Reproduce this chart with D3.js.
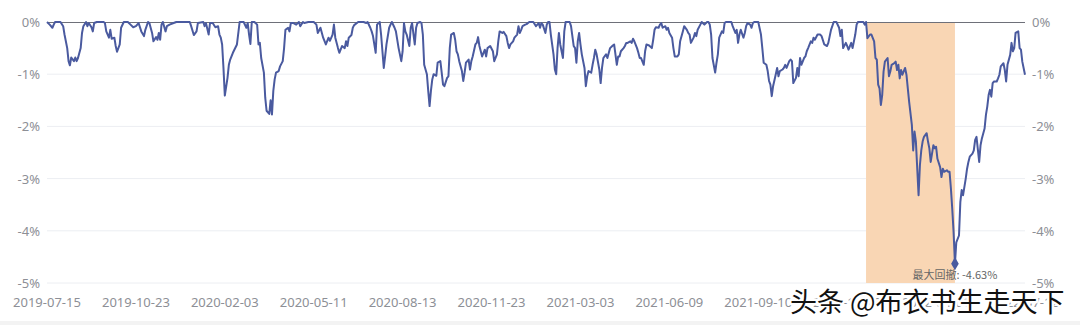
<!DOCTYPE html>
<html><head><meta charset="utf-8">
<script src="https://cdn.jsdelivr.net/npm/d3@7"></script>
<style>html,body{margin:0;padding:0;background:#fff;} svg{display:block;}</style>
</head><body><svg id="c" width="1080" height="325"></svg>
<script>
// trading-day index (0 = 2019-07-15) and drawdown in %
const dayIndex = [
0,2,4,5,6,10,12,13,15,16,17,18,20,21,22,23,25,26,27,29,30,31,33,34,35,37,42,43,44,46,47,48,50,51,52,54,55,57,60,62,64,66,68,70,72,73,75,76,78,79,81,82,83,84,85,86,88,89,91,94,96,106,107,109,111,112,116,117,118,120,121,123,125,127,128,129,130,131,132,134,135,136,138,141,143,
146,148,149,150,151,152,154,156,157,158,159,161,162,163,165,166,167,168,169,170,172,173,175,176,177,179,180,181,183,185,187,188,190,191,194,198,200,201,203,205,207,209,210,212,213,214,216,217,219,221,222,223,224,226,227,228,231,235,237,238,240,241,242,244,245,247,248,250,251,252,254,255,256,258,259,261,263,264,265,266,267,269,270,271,273,274,275,277,278,279,280,282,283,284,285,286,287,289,290,292,
293,294,295,297,298,299,300,302,303,304,305,306,308,309,310,311,313,314,315,316,318,319,320,321,322,323,325,326,327,329,331,332,334,335,336,338,339,341,342,343,344,346,347,349,350,351,352,353,355,356,358,361,363,365,366,367,368,370,371,372,373,374,376,377,378,379,380,381,383,384,385,388,389,391,392,393,394,395,396,397,399,400,401,402,404,405,406,407,408,410,411,412,413,415,416,418,420,421,423,424,425,426,428,429,430,431,433,434,435,436,438,439,440,
441,443,444,445,447,449,450,451,452,454,455,456,457,459,460,461,462,464,465,466,468,469,470,472,473,475,476,477,478,480,481,482,483,485,486,488,490,491,492,493,494,496,497,498,499,501,502,503,504,508,509,511,512,513,514,515,517,518,519,520,522,523,524,525,528,530,531,532,534,535,536,537,538,539,541,542,543,544,546,547,548,549,551,552,553,554,556,557,558,559,560,562,563,564,565,567,568,569,570,572,574,575,577,579,580,582,584,586,588,589,590,591,593,594,595,597,598,600,601,
602,606,607,608,609,611,612,614,615,616,617,618,619,620,621,622,624,625,626,627,629,630,631,632,633,634,635,637,638,639,640,642,643,644,645,647,648,649,650,651,653,654,655,656,658,659,660,661,663,664,665,666,668,669,670,671,672,673,674,675,677,678,679,680,682,683,684,685,687,688,689,690,692,693,694,696,697,698,699,700,701,702,703,705,706,707,708,710,711,712,713,715,716,717,718,719,721,722,723,724,726
];
const drawdown = [
0,-0.05,-0.11,-0.05,0,0,-0.08,-0.24,-0.5,-0.75,-0.83,-0.68,-0.75,-0.68,-0.75,-0.69,-0.5,-0.21,-0.08,0,-0.08,-0.02,-0.1,-0.18,-0.02,0,0,-0.02,-0.18,-0.3,-0.15,-0.32,-0.3,-0.46,-0.57,-0.43,-0.11,0,0,-0.05,-0.1,-0.08,-0.02,-0.18,-0.27,-0.15,0,-0.02,-0.21,-0.37,-0.29,-0.34,-0.21,-0.34,-0.05,0,-0.18,-0.08,-0.05,-0.02,0,0,-0.08,-0.25,-0.18,-0.02,0,-0.08,-0.02,-0.24,-0.02,-0.02,-0.1,-0.08,-0.24,-0.3,-0.43,-0.88,-1.41,-1.07,-0.82,-0.72,-0.59,-0.43,0,
0,-0.11,-0.02,-0.24,-0.42,0,0,-0.05,-0.43,-0.4,-0.69,-0.97,-1.45,-1.7,-1.76,-1.5,-1.77,-1.32,-1.1,-0.97,-0.94,-0.85,-0.75,-0.5,-0.15,-0.11,-0.18,-0.02,-0.02,-0.05,0,-0.08,0,-0.02,0,0,-0.05,-0.21,-0.11,-0.3,-0.43,-0.3,-0.36,-0.24,-0.05,-0.3,-0.5,-0.59,-0.46,-0.5,-0.37,-0.46,-0.3,-0.25,-0.11,-0.06,0,0,-0.02,0,-0.11,-0.18,-0.27,-0.59,-0.05,0,-0.24,-0.88,-0.66,-0.43,-0.11,-0.05,0,-0.11,-0.18,-0.5,-0.75,-0.56,-0.02,-0.18,-0.24,-0.46,-0.11,-0.02,-0.43,-0.11,-0.02,0,-0.02,-0.24,-0.82,-1.0,-1.32,-1.61,-1.32,-1.1,-1.0,-1.03,-0.78,-0.75,
-0.97,-1.2,-1.23,-1.07,-1.04,-0.5,-0.24,-0.21,-0.34,-0.56,-0.62,-0.75,-0.94,-1.13,-0.97,-0.78,-0.72,-0.91,-0.75,-0.66,-0.43,-0.4,-0.29,-0.46,-0.56,-0.66,-0.53,-0.66,-0.5,-0.46,-0.56,-0.75,-0.62,-0.37,-0.18,-0.21,-0.19,-0.27,-0.4,-0.5,-0.43,-0.37,-0.3,-0.24,-0.08,-0.21,-0.15,-0.08,-0.05,-0.04,0,0,-0.08,-0.02,-0.11,-0.02,-0.05,-0.21,-0.05,0,0,-0.24,-0.62,-0.91,-1.0,-0.5,-0.21,-0.43,-0.69,-0.18,0,0,-0.08,-0.46,-0.5,-0.78,-0.37,-0.21,-0.43,-0.62,-0.88,-1.23,-1.04,-0.94,-0.97,-0.82,-0.69,-0.53,-0.62,-0.91,-1.17,-0.88,-0.69,-0.62,-0.69,-0.5,-0.45,-0.43,-0.82,-0.66,-0.66,-0.56,-0.5,-0.46,-0.4,-0.4,-0.37,-0.4,-0.32,-0.37,-0.5,-0.59,-0.69,
-0.69,-0.82,-0.56,-0.43,-0.45,-0.5,-0.34,-0.15,-0.1,-0.11,-0.05,-0.02,-0.11,-0.08,-0.15,-0.11,-0.21,-0.3,-0.5,-0.66,-0.66,-0.62,-0.37,-0.18,-0.08,-0.15,-0.21,-0.24,-0.4,-0.3,-0.21,-0.27,-0.15,-0.05,0,-0.05,0,0,-0.05,-0.24,-0.69,-0.97,-0.78,-0.62,-0.3,-0.18,-0.21,-0.02,0,0,-0.08,-0.21,-0.15,-0.4,-0.24,-0.15,-0.3,-0.21,-0.08,-0.02,-0.05,-0.11,-0.02,0,0,-0.24,-0.5,-0.78,-0.82,-0.94,-1.13,-1.2,-1.42,-1.23,-1.0,-0.88,-1.04,-0.94,-0.91,-0.88,-0.82,-0.88,-0.75,-0.72,-0.75,-1.17,-1.07,-0.88,-1.04,-0.69,-0.82,-0.69,-0.66,-0.56,-0.5,-0.37,-0.4,-0.3,-0.34,-0.24,-0.24,-0.27,-0.43,-0.46,-0.4,-0.15,0,0,-0.11,-0.27,-0.15,-0.5,-0.4,-0.46,-0.53,-0.4,-0.5,-0.24,-0.05,
0,0,-0.05,0,-0.31,-0.24,-0.24,-0.37,-0.69,-0.72,-1.2,-1.27,-1.59,-1.4,-0.95,-0.76,-0.69,-1.04,-0.95,-0.82,-0.79,-0.76,-0.92,-0.82,-1.08,-0.92,-1.01,-0.88,-1.01,-1.27,-1.53,-1.97,-2.46,-2.1,-2.29,-3.32,-2.74,-2.46,-2.29,-2.2,-2.13,-2.29,-2.42,-2.68,-2.36,-2.42,-2.39,-2.62,-2.78,-2.97,-2.81,-2.87,-2.84,-2.87,-2.87,-3.19,-3.58,-4.03,-4.63,-4.22,-4.09,-3.45,-3.22,-3.32,-3.0,-2.81,-2.68,-2.58,-2.52,-2.46,-2.26,-2.2,-2.68,-2.36,-2.23,-2.04,-1.78,-1.62,-1.4,-1.3,-1.43,-1.17,-1.14,-1.14,-1.08,-1.01,-0.85,-0.79,-0.92,-1.14,-0.82,-0.63,-0.4,-0.56,-0.5,-0.21,-0.18,-0.5,-0.53,-0.76,-1.01
];
const xTickIndex = [0,66,132,198,264,330,396,462,528,594,660,726];
const xTickLabels = ["2019-07-15","2019-10-23","2020-02-03","2020-05-11","2020-08-13","2020-11-23","2021-03-03","2021-06-09","2021-09-10","2021-12-22","2022-04-01","2022-07-12"];
const yTicks = [0,-1,-2,-3,-4,-5];
const peakIndex = 608;
const maxDDLabel = "最大回撤";
const watermarkText = "头条 @布衣书生走天下";

const data = dayIndex.map((d,i)=>({i:d, v:drawdown[i]}));
const svg = d3.select("#c");
const x = d3.scaleLinear().domain([0, 726]).range([47, 1025]);
const y = d3.scaleLinear().domain([-5, 0]).range([283, 22]);
const font = "'Noto Sans', 'Noto Sans CJK SC', sans-serif";
const labelColor = "#8d8f96";

// bottom light band
svg.append("rect").attr("x",0).attr("y",321).attr("width",1080).attr("height",4).attr("fill","#f3f3f3");

// gridlines
svg.append("g").selectAll("line").data(yTicks.filter(t=>t!==0)).join("line")
  .attr("x1", x(0)).attr("x2", x(726))
  .attr("y1", d=>y(d)).attr("y2", d=>y(d))
  .attr("stroke", "#eceef2").attr("stroke-width", 1);

// max drawdown shaded area
const trough = d3.least(data, d=>d.v);
svg.append("rect")
  .attr("x", x(peakIndex)).attr("width", x(trough.i)-x(peakIndex))
  .attr("y", y(0)).attr("height", y(-5)-y(0))
  .attr("fill", "#f9d6b4");

// zero axis line
svg.append("line").attr("x1", x(0)).attr("x2", x(726)).attr("y1", y(0)+0.5).attr("y2", y(0)+0.5)
  .attr("stroke", "#6e7079").attr("stroke-width", 1);

// y labels both sides
const yl = svg.append("g").attr("font-family", font).attr("font-size", 13).attr("fill", labelColor);
yl.selectAll("text.l").data(yTicks).join("text").attr("class","l")
  .attr("x", 40).attr("y", d=>y(d)).attr("text-anchor","end").attr("dominant-baseline","central")
  .text(d=>d+"%");
yl.selectAll("text.r").data(yTicks).join("text").attr("class","r")
  .attr("x", 1032).attr("y", d=>y(d)).attr("text-anchor","start").attr("dominant-baseline","central")
  .text(d=>d+"%");

// x labels
svg.append("g").attr("font-family", font).attr("font-size", 13).attr("fill", labelColor)
  .selectAll("text").data(xTickIndex).join("text")
  .attr("x", d=>x(d)).attr("y", 302).attr("text-anchor","middle").attr("dominant-baseline","central")
  .text((d,i)=>xTickLabels[i]);

// line
const line = d3.line().x(d=>x(d.i)).y(d=>y(d.v));
svg.append("path").datum(data).attr("d", line)
  .attr("fill","none").attr("stroke","#4a5a9f").attr("stroke-width",2).attr("stroke-linejoin","round");

// trough marker
svg.append("path").attr("d", d3.symbol(d3.symbolDiamond, 50)())
  .attr("transform", `translate(${x(trough.i)},${y(trough.v)})`).attr("fill","#4a5a9f");
svg.append("text").attr("x", x(trough.i)).attr("y", y(trough.v)+10)
  .attr("text-anchor","middle").attr("dominant-baseline","central")
  .attr("font-family", "'Noto Sans CJK SC', sans-serif").attr("font-size", 11).attr("fill","#666")
  .text(`${maxDDLabel}: ${trough.v.toFixed(2)}%`);

// watermark
svg.append("text").attr("x", 790).attr("y", 300).attr("dominant-baseline","central")
  .attr("font-family", "'Noto Sans CJK SC', sans-serif").attr("font-size", 27)
  .attr("fill","#111").attr("stroke","#fff").attr("stroke-width",5).attr("stroke-linejoin","round").attr("paint-order","stroke")
  .text(watermarkText);
</script></body></html>
